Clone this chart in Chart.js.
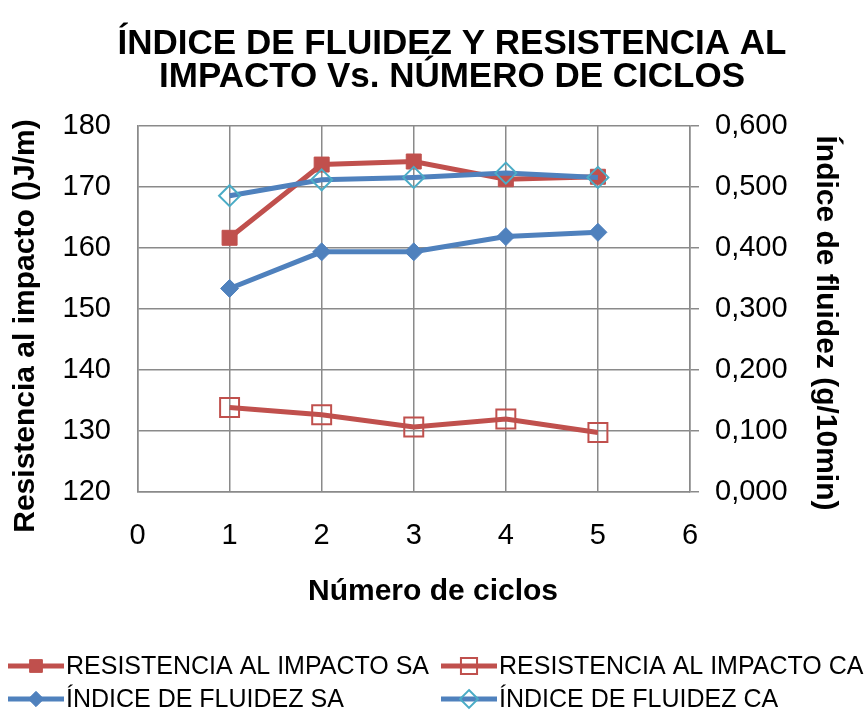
<!DOCTYPE html>
<html><head><meta charset="utf-8">
<script src="https://cdn.jsdelivr.net/npm/chart.js@4.4.0/dist/chart.umd.min.js"></script>
<style>html,body{margin:0;padding:0;background:#fff;}#wrap{width:868px;height:713px;position:relative}</style>
</head><body><div id="wrap"><canvas id="c" width="868" height="713"></canvas></div>
<script>
const ciclos = [1, 2, 3, 4, 5];
const resistenciaSA = [161.6, 173.6, 174.1, 171.2, 171.6];
const resistenciaCA = [133.8, 132.6, 130.6, 131.9, 129.7];
const fluidezSA = [0.333, 0.393, 0.393, 0.418, 0.425];
const fluidezCA = [0.485, 0.511, 0.515, 0.522, 0.515];
const xRange = [0, 6];
const leftRange = [120, 180];
const rightRange = [0, 0.6];
const seriesNames = ['RESISTENCIA AL IMPACTO SA', 'RESISTENCIA AL IMPACTO CA', 'ÍNDICE DE FLUIDEZ SA', 'ÍNDICE DE FLUIDEZ CA'];
const titleLines = ['ÍNDICE DE FLUIDEZ Y RESISTENCIA AL', 'IMPACTO Vs. NÚMERO DE CICLOS'];
const xTitle = 'Número de ciclos';
const leftTitle = 'Resistencia al impacto ()J/m)';
const rightTitle = 'Índice de fluidez (g/10min)';

const RED = '#C0504D', BLUE = '#4F81BD', LBLUE = '#4BACC6', GRID = '#8a8a8a';
const FONT = "'Liberation Sans', Arial, sans-serif";

const pts = (ys) => ciclos.map((x, i) => ({x: x, y: ys[i]}));

const datasets = [
  {label: seriesNames[0], data: pts(resistenciaSA), yAxisID: 'y', borderColor: RED, backgroundColor: RED,
   borderWidth: 5, pointStyle: 'rect', pointRadius: 10.6, pointBorderColor: RED, pointBackgroundColor: RED, pointBorderWidth: 1, order: 3},
  {label: seriesNames[1], data: pts(resistenciaCA), yAxisID: 'y', borderColor: RED, backgroundColor: 'rgba(0,0,0,0)',
   borderWidth: 5, pointStyle: 'rect', pointRadius: 13.4, pointBorderColor: RED, pointBackgroundColor: 'rgba(0,0,0,0)', pointBorderWidth: 2, order: 2},
  {label: seriesNames[2], data: pts(fluidezSA), yAxisID: 'y1', borderColor: BLUE, backgroundColor: BLUE,
   borderWidth: 5, pointStyle: 'rectRot', pointRadius: 9, pointBorderColor: BLUE, pointBackgroundColor: BLUE, pointBorderWidth: 1, order: 1},
  {label: seriesNames[3], data: pts(fluidezCA), yAxisID: 'y1', borderColor: BLUE, backgroundColor: 'rgba(0,0,0,0)',
   borderWidth: 5, pointStyle: 'rectRot', pointRadius: 10.5, pointBorderColor: LBLUE, pointBackgroundColor: 'rgba(255,255,255,0)', pointBorderWidth: 2, order: 0}
];

function drawMarker(ctx, ds, x, y) {
  ctx.save();
  ctx.lineWidth = ds.pointBorderWidth;
  ctx.strokeStyle = ds.pointBorderColor;
  ctx.fillStyle = ds.pointBackgroundColor;
  const r = ds.pointRadius;
  ctx.beginPath();
  if (ds.pointStyle === 'rect') {
    const s = r * Math.SQRT1_2;
    ctx.rect(x - s, y - s, 2 * s, 2 * s);
  } else {
    ctx.moveTo(x, y - r); ctx.lineTo(x + r, y); ctx.lineTo(x, y + r); ctx.lineTo(x - r, y); ctx.closePath();
  }
  ctx.fill(); ctx.stroke();
  ctx.restore();
}

const decor = {
  id: 'decor',
  afterDraw(chart) {
    const ctx = chart.ctx;
    ctx.save();
    ctx.fillStyle = '#000';
    ctx.textAlign = 'center';
    ctx.textBaseline = 'alphabetic';
    ctx.font = 'bold 35px ' + FONT;
    ctx.fillText(titleLines[0], 452, 54);
    ctx.fillText(titleLines[1], 452, 87);
    // axis titles
    ctx.font = 'bold 30px ' + FONT;
    ctx.textBaseline = 'middle';
    ctx.fillText(xTitle, 433, 592);
    ctx.save(); ctx.translate(26, 326); ctx.rotate(-Math.PI / 2); ctx.fillText(leftTitle, 0, 0); ctx.restore();
    ctx.save(); ctx.translate(825.5, 323); ctx.rotate(Math.PI / 2); ctx.fillText(rightTitle, 0, 0); ctx.restore();
    // legend
    const pos = [[8, 666], [441, 666], [8, 699], [441, 699]];
    ctx.font = '25px ' + FONT;
    ctx.textAlign = 'left';
    ctx.textBaseline = 'middle';
    chart.data.datasets.forEach((ds, i) => {
      const [lx, ly] = pos[i];
      ctx.strokeStyle = ds.borderColor;
      ctx.lineWidth = 5;
      ctx.beginPath(); ctx.moveTo(lx, ly); ctx.lineTo(lx + 56, ly); ctx.stroke();
      const m = Object.assign({}, ds, {pointRadius: ds.pointRadius * 0.85});
      drawMarker(ctx, m, lx + 28, ly);
      ctx.fillStyle = '#000';
      ctx.fillText(ds.label, lx + 58, ly + 1);
    });
    ctx.restore();
  }
};

new Chart(document.getElementById('c'), {
  type: 'line',
  data: {datasets: datasets},
  plugins: [decor],
  options: {
    responsive: false,
    devicePixelRatio: 1,
    animation: false,
    layout: {padding: {top: 125.5, left: 0, right: 0, bottom: 0}},
    plugins: {legend: {display: false}, title: {display: false}, tooltip: {enabled: false}},
    elements: {line: {tension: 0}},
    scales: {
      x: {
        type: 'linear', min: xRange[0], max: xRange[1],
        ticks: {stepSize: 1, color: '#000', font: {family: FONT, size: 29}, padding: 27},
        grid: {color: GRID, lineWidth: 1.5, drawTicks: false},
        border: {color: GRID, width: 1.5},
        afterFit(s) { s.height = 713 - 491.7; }
      },
      y: {
        position: 'left', min: leftRange[0], max: leftRange[1],
        ticks: {stepSize: 10, color: '#000', font: {family: FONT, size: 29}, padding: 26.5},
        grid: {color: GRID, lineWidth: 1.5, drawTicks: false},
        border: {color: GRID, width: 1.5},
        afterFit(s) { s.width = 137.5; }
      },
      y1: {
        position: 'right', min: rightRange[0], max: rightRange[1],
        ticks: {stepSize: 0.1, color: '#000', font: {family: FONT, size: 29}, padding: 16,
          callback: (v) => v.toFixed(3).replace('.', ',')},
        grid: {color: GRID, lineWidth: 1.5, drawOnChartArea: false, drawTicks: true, tickLength: 9},
        border: {color: GRID, width: 1.5},
        afterFit(s) { s.width = 868 - 690; }
      }
    }
  }
});
</script></body></html>
